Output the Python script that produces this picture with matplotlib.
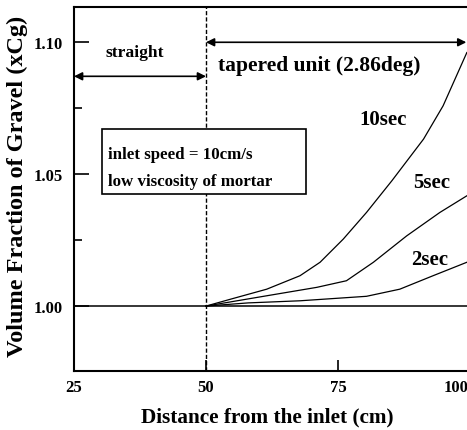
import matplotlib
matplotlib.use('Agg')
import matplotlib.pyplot as plt
from matplotlib.patches import Rectangle
from matplotlib.transforms import offset_copy

plt.rcParams['font.family'] = ['Liberation Serif', 'DejaVu Serif']
plt.rcParams['font.weight'] = 'bold'

# values
x_10sec = [50, 55, 61.5, 67.8, 71.6, 76.0, 80.4, 85.2, 91.2, 94.9, 99.4]
y_10sec = [1.000, 1.0028, 1.0064, 1.0115, 1.0166, 1.0254, 1.0355, 1.0475, 1.0633, 1.0759, 1.0961]
x_5sec = [50, 55, 61.5, 71.0, 76.6, 81.7, 88.0, 94.3, 99.4]
y_5sec = [1.000, 1.0017, 1.0039, 1.0071, 1.0096, 1.0166, 1.0266, 1.0355, 1.0418]
x_2sec = [50, 58, 67.8, 80.4, 86.7, 93.0, 99.4]
y_2sec = [1.000, 1.0012, 1.0020, 1.0037, 1.0064, 1.0115, 1.0166]
x_ticks = [25, 50, 75]
x_tick_labels = ['25', '50', '75']
y_ticks = [1.00, 1.05, 1.10]
y_tick_labels = ['1.00', '1.05', '1.10']
y_minor = [1.025, 1.075]

fig = plt.figure(figsize=(4.67, 4.31), dpi=100)
ax = fig.add_axes([0.1585, 0.137, 0.8415, 0.844])

ax.plot(x_10sec, y_10sec, color='black', lw=0.9)
ax.plot(x_5sec, y_5sec, color='black', lw=0.9)
ax.plot(x_2sec, y_2sec, color='black', lw=0.9)
ax.axhline(1.0, color='black', lw=1.1)
ax.axvline(50, color='black', lw=1.0, ls=(0, (3, 1.5)))

ax.set_xlim(25, 99.43)
ax.set_ylim(0.9754, 1.1133)
ax.set_xticks(x_ticks)
ax.set_xticklabels(x_tick_labels)
ax.set_yticks(y_ticks)
ax.set_yticklabels(y_tick_labels)
ax.set_yticks(y_minor, minor=True)
ax.tick_params(axis='y', direction='in', length=11, width=1.2, labelsize=12, pad=8)
ax.tick_params(axis='y', which='minor', direction='in', length=6, width=1.2)
ax.tick_params(axis='x', direction='in', length=8, width=1.2, labelsize=12, pad=5.5)
ax.spines['right'].set_visible(False)
for s in ['left', 'top', 'bottom']:
    ax.spines[s].set_linewidth(1.5)

# the 100 label sits just inside the right edge of the cropped figure
lab_tr = offset_copy(ax.get_xaxis_transform(), fig=fig, y=-5.5, units='points')
ax.text(97.3, 0, '100', transform=lab_tr, ha='center', va='top', fontsize=12, fontweight='bold')

ax.set_xlabel('Distance from the inlet (cm)', fontsize=15.3, fontweight='bold')
ax.set_ylabel('Volume Fraction of Gravel (xCg)', fontsize=17.5, fontweight='bold')
ax.xaxis.set_label_coords(0.491, -0.099)
ax.yaxis.set_label_coords(-0.118, 0.511)

# section arrows
ax.annotate('', xy=(25, 1.0871), xytext=(50, 1.0871),
            arrowprops=dict(arrowstyle='<|-|>', color='black', lw=1.2,
                            shrinkA=0, shrinkB=0, mutation_scale=12))
ax.annotate('', xy=(50, 1.10), xytext=(99.3, 1.10),
            arrowprops=dict(arrowstyle='<|-|>', color='black', lw=1.2,
                            shrinkA=0, shrinkB=0, mutation_scale=12))
ax.text(36.5, 1.0962, 'straight', ha='center', va='center', fontsize=12.6, fontweight='bold')
ax.text(71.4, 1.0913, 'tapered unit (2.86deg)', ha='center', va='center', fontsize=15.5, fontweight='bold')

ax.text(83.5, 1.0708, '10sec', ha='center', va='center', fontsize=15, fontweight='bold')
ax.text(92.7, 1.0470, '5sec', ha='center', va='center', fontsize=15, fontweight='bold')
ax.text(92.4, 1.0178, '2sec', ha='center', va='center', fontsize=15, fontweight='bold')

# condition box
ax.add_patch(Rectangle((30.3, 1.0424), 68.9 - 30.3, 1.0671 - 1.0424,
                       facecolor='white', edgecolor='black', lw=1.2, zorder=3))
ax.text(31.4, 1.0576, 'inlet speed = 10cm/s', ha='left', va='center',
        fontsize=12.2, fontweight='bold', zorder=4)
ax.text(31.4, 1.0474, 'low viscosity of mortar', ha='left', va='center',
        fontsize=12.2, fontweight='bold', zorder=4)

fig.savefig('out.png', dpi=100)
